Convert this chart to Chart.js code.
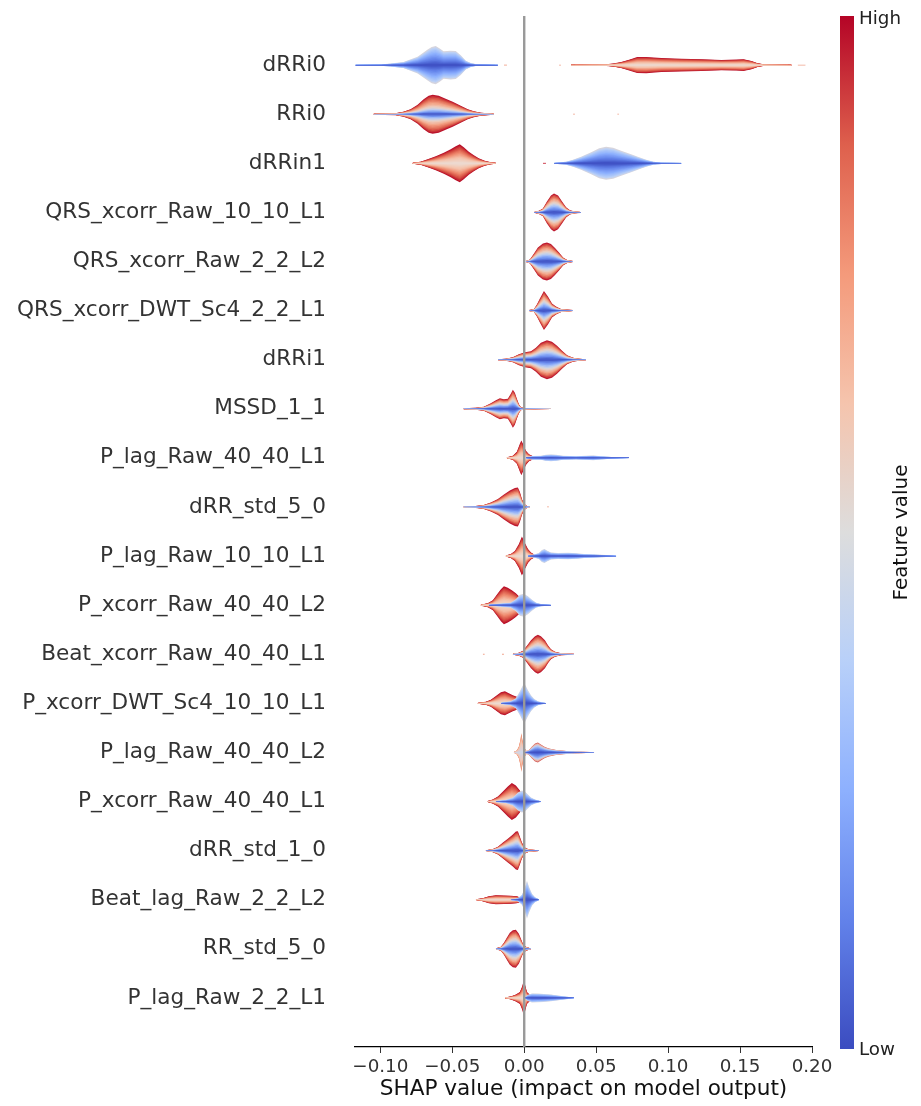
<!DOCTYPE html>
<html>
<head>
<meta charset="utf-8">
<title>SHAP layered violin summary</title>
<script src="https://cdn.jsdelivr.net/npm/chart.js@4.4.1/dist/chart.umd.min.js"></script>
<style>
  html, body { margin: 0; padding: 0; background: #ffffff; }
  #wrap { width: 921px; height: 1106px; position: relative; }
</style>
</head>
<body>
<div id="wrap"><canvas id="chart" width="921" height="1106"></canvas></div>
<script>
// Features, top to bottom
const featureNames = [
  'dRRi0', 'RRi0', 'dRRin1', 'QRS_xcorr_Raw_10_10_L1', 'QRS_xcorr_Raw_2_2_L2',
  'QRS_xcorr_DWT_Sc4_2_2_L1', 'dRRi1', 'MSSD_1_1', 'P_lag_Raw_40_40_L1', 'dRR_std_5_0',
  'P_lag_Raw_10_10_L1', 'P_xcorr_Raw_40_40_L2', 'Beat_xcorr_Raw_40_40_L1',
  'P_xcorr_DWT_Sc4_10_10_L1', 'P_lag_Raw_40_40_L2', 'P_xcorr_Raw_40_40_L1',
  'dRR_std_1_0', 'Beat_lag_Raw_2_2_L2', 'RR_std_5_0', 'P_lag_Raw_2_2_L1'
];
const xTicks = [-0.10, -0.05, 0.00, 0.05, 0.10, 0.15, 0.20];

// Violin outlines: [SHAP value, half width of the density in row units]
const dRRi0Low = [[-0.1173,0.010],[-0.0999,0.014],[-0.0929,0.031],[-0.0839,0.061],[-0.0741,0.169],[-0.0671,0.316],[-0.0643,0.370],[-0.0615,0.390],[-0.0587,0.340],[-0.0560,0.280],[-0.0511,0.292],[-0.0476,0.285],[-0.0441,0.200],[-0.0406,0.090],[-0.0371,0.041],[-0.0337,0.020],[-0.0183,0.010]];
const dRRi0DotA = [[-0.0141,0.009],[-0.0120,0.009]];
const dRRi0DotB = [[0.0242,0.008],[0.0256,0.008]];
const dRRi0High = [[0.0325,0.008],[0.0569,0.016],[0.0618,0.031],[0.0674,0.061],[0.0729,0.110],[0.0785,0.163],[0.0848,0.165],[0.0953,0.143],[0.1092,0.130],[0.1231,0.120],[0.1371,0.106],[0.1475,0.112],[0.1524,0.120],[0.1580,0.085],[0.1621,0.040],[0.1663,0.016],[0.1858,0.008]];
const dRRi0DotC = [[0.1900,0.008],[0.1956,0.008]];

const RRi0Shape = [[-0.1047,0.010],[-0.0894,0.020],[-0.0839,0.051],[-0.0790,0.102],[-0.0741,0.193],[-0.0699,0.305],[-0.0664,0.377],[-0.0636,0.397],[-0.0594,0.377],[-0.0546,0.316],[-0.0497,0.255],[-0.0441,0.173],[-0.0392,0.102],[-0.0350,0.061],[-0.0301,0.031],[-0.0211,0.010]];
const RRi0DotA = [[0.0339,0.008],[0.0353,0.008]];
const RRi0DotB = [[0.0646,0.008],[0.0660,0.008]];

const dRRin1High = [[-0.0776,0.010],[-0.0720,0.031],[-0.0671,0.081],[-0.0615,0.143],[-0.0559,0.214],[-0.0511,0.285],[-0.0476,0.346],[-0.0448,0.387],[-0.0420,0.326],[-0.0385,0.234],[-0.0350,0.163],[-0.0316,0.102],[-0.0274,0.051],[-0.0232,0.020],[-0.0197,0.010]];
const dRRin1Dot = [[0.0130,0.009],[0.0151,0.009]];
const dRRin1Low = [[0.0207,0.010],[0.0291,0.031],[0.0339,0.071],[0.0395,0.132],[0.0465,0.224],[0.0521,0.305],[0.0569,0.336],[0.0618,0.316],[0.0674,0.255],[0.0743,0.183],[0.0799,0.122],[0.0848,0.071],[0.0897,0.031],[0.0953,0.016],[0.1092,0.010]];

const qrsRaw10Shape = [[0.0068,0.010],[0.0102,0.031],[0.0130,0.081],[0.0158,0.224],[0.0186,0.346],[0.0207,0.387],[0.0235,0.346],[0.0263,0.224],[0.0291,0.102],[0.0318,0.041],[0.0353,0.020],[0.0395,0.010]];
const qrsRaw2Shape = [[0.0012,0.010],[0.0040,0.041],[0.0068,0.163],[0.0095,0.285],[0.0130,0.367],[0.0158,0.387],[0.0186,0.356],[0.0214,0.275],[0.0242,0.183],[0.0270,0.081],[0.0298,0.031],[0.0339,0.010]];
const qrsDwtShape = [[0.0033,0.010],[0.0068,0.031],[0.0088,0.122],[0.0109,0.244],[0.0137,0.397],[0.0165,0.285],[0.0193,0.143],[0.0221,0.081],[0.0256,0.031],[0.0339,0.010]];
const dRRi1Shape = [[-0.0183,0.010],[-0.0128,0.020],[-0.0079,0.051],[-0.0037,0.112],[0.0005,0.153],[0.0047,0.173],[0.0081,0.245],[0.0116,0.346],[0.0158,0.397],[0.0193,0.367],[0.0228,0.285],[0.0263,0.183],[0.0298,0.092],[0.0339,0.041],[0.0381,0.020],[0.0430,0.010]];
const mssdShape = [[-0.0422,0.010],[-0.0337,0.020],[-0.0281,0.041],[-0.0232,0.112],[-0.0197,0.173],[-0.0169,0.214],[-0.0141,0.193],[-0.0114,0.204],[-0.0093,0.305],[-0.0079,0.387],[-0.0065,0.326],[-0.0051,0.204],[-0.0037,0.092],[-0.0023,0.031],[-0.0002,0.016],[0.0082,0.010],[0.0186,0.006]];

const pLag40L1High = [[-0.0121,0.010],[-0.0079,0.041],[-0.0051,0.122],[-0.0030,0.285],[-0.0020,0.356],[-0.0009,0.285],[0.0012,0.143],[0.0033,0.071],[0.0061,0.031],[0.0095,0.010]];
const pLag40L1Low = [[0.0012,0.010],[0.0061,0.037],[0.0116,0.041],[0.0151,0.061],[0.0186,0.069],[0.0221,0.061],[0.0270,0.041],[0.0360,0.033],[0.0430,0.041],[0.0479,0.047],[0.0535,0.033],[0.0604,0.020],[0.0674,0.012],[0.0729,0.006]];

const dRRstd5Shape = [[-0.0422,0.010],[-0.0337,0.020],[-0.0281,0.041],[-0.0232,0.092],[-0.0183,0.163],[-0.0141,0.255],[-0.0100,0.336],[-0.0065,0.387],[-0.0044,0.397],[-0.0030,0.305],[-0.0016,0.163],[-0.0002,0.071],[0.0019,0.020],[0.0040,0.008]];
const dRRstd5Dot = [[0.0158,0.008],[0.0172,0.008]];

const pLag10High = [[-0.0128,0.010],[-0.0093,0.041],[-0.0065,0.102],[-0.0037,0.244],[-0.0016,0.397],[0.0005,0.265],[0.0026,0.143],[0.0047,0.071],[0.0075,0.020],[0.0116,0.008]];
const pLag10Low = [[0.0026,0.010],[0.0068,0.031],[0.0102,0.061],[0.0123,0.122],[0.0141,0.143],[0.0158,0.112],[0.0186,0.071],[0.0235,0.061],[0.0305,0.067],[0.0360,0.057],[0.0416,0.041],[0.0500,0.031],[0.0569,0.020],[0.0639,0.008]];

const pXcorr40L2High = [[-0.0302,0.010],[-0.0253,0.041],[-0.0218,0.102],[-0.0183,0.244],[-0.0162,0.326],[-0.0141,0.387],[-0.0114,0.356],[-0.0086,0.305],[-0.0058,0.244],[-0.0030,0.163],[-0.0002,0.061],[0.0019,0.010]];
const pXcorr40L2Low = [[-0.0246,0.010],[-0.0162,0.031],[-0.0093,0.051],[-0.0058,0.122],[-0.0030,0.214],[-0.0002,0.234],[0.0026,0.183],[0.0054,0.112],[0.0082,0.051],[0.0116,0.024],[0.0186,0.008]];

const beatXcorrShape = [[-0.0079,0.010],[-0.0037,0.031],[-0.0009,0.071],[0.0019,0.173],[0.0047,0.285],[0.0075,0.367],[0.0095,0.397],[0.0116,0.367],[0.0144,0.285],[0.0165,0.183],[0.0186,0.102],[0.0214,0.051],[0.0256,0.020],[0.0346,0.008]];
const beatXcorrDotA = [[-0.0288,0.008],[-0.0274,0.008]];
const beatXcorrDotB = [[-0.0155,0.008],[-0.0141,0.008]];

const pXcorrDwtHigh = [[-0.0323,0.010],[-0.0267,0.031],[-0.0232,0.071],[-0.0190,0.163],[-0.0162,0.224],[-0.0134,0.244],[-0.0107,0.204],[-0.0079,0.163],[-0.0051,0.132],[-0.0023,0.081],[0.0005,0.020],[0.0026,0.008]];
const pXcorrDwtLow = [[-0.0162,0.010],[-0.0093,0.041],[-0.0058,0.102],[-0.0030,0.244],[-0.0009,0.367],[0.0005,0.387],[0.0026,0.265],[0.0047,0.163],[0.0068,0.092],[0.0095,0.041],[0.0123,0.020],[0.0151,0.008]];

const pLag40L2Spike = [[-0.0072,0.008],[-0.0051,0.041],[-0.0037,0.122],[-0.0026,0.265],[-0.0020,0.397],[-0.0013,0.265],[-0.0002,0.122],[0.0012,0.041],[0.0033,0.010]];
const pLag40L2Low = [[0.0005,0.010],[0.0033,0.051],[0.0054,0.122],[0.0075,0.183],[0.0095,0.204],[0.0116,0.163],[0.0144,0.112],[0.0172,0.081],[0.0221,0.051],[0.0291,0.031],[0.0360,0.020],[0.0430,0.012],[0.0486,0.006]];

const pXcorr40L1High = [[-0.0254,0.010],[-0.0219,0.041],[-0.0183,0.102],[-0.0148,0.204],[-0.0114,0.305],[-0.0086,0.377],[-0.0058,0.326],[-0.0030,0.224],[-0.0009,0.102],[0.0012,0.020],[0.0033,0.006]];
const pXcorr40L1Low = [[-0.0197,0.010],[-0.0128,0.031],[-0.0079,0.081],[-0.0044,0.183],[-0.0016,0.224],[0.0005,0.204],[0.0026,0.143],[0.0047,0.081],[0.0075,0.041],[0.0116,0.008]];

const dRRstd1Shape = [[-0.0267,0.010],[-0.0218,0.031],[-0.0183,0.081],[-0.0148,0.163],[-0.0114,0.244],[-0.0079,0.326],[-0.0058,0.387],[-0.0044,0.397],[-0.0030,0.285],[-0.0016,0.163],[0.0005,0.061],[0.0033,0.024],[0.0102,0.008]];

const beatLagHigh = [[-0.0336,0.008],[-0.0288,0.031],[-0.0246,0.071],[-0.0197,0.092],[-0.0141,0.088],[-0.0093,0.081],[-0.0051,0.071],[-0.0023,0.041],[0.0005,0.010]];
const beatLagLow = [[-0.0093,0.006],[-0.0044,0.031],[-0.0016,0.102],[0.0005,0.244],[0.0019,0.387],[0.0033,0.265],[0.0054,0.122],[0.0075,0.051],[0.0102,0.010]];

const rrStd5Shape = [[-0.0197,0.010],[-0.0162,0.041],[-0.0141,0.122],[-0.0121,0.224],[-0.0100,0.326],[-0.0079,0.377],[-0.0058,0.387],[-0.0037,0.305],[-0.0023,0.204],[-0.0009,0.102],[0.0012,0.041],[0.0047,0.008]];

const pLag2High = [[-0.0134,0.008],[-0.0093,0.031],[-0.0058,0.071],[-0.0030,0.122],[-0.0013,0.244],[-0.0002,0.377],[0.0008,0.244],[0.0019,0.122],[0.0040,0.061],[0.0068,0.020],[0.0095,0.008]];
const pLag2Low = [[0.0005,0.010],[0.0026,0.061],[0.0054,0.092],[0.0095,0.088],[0.0137,0.081],[0.0186,0.067],[0.0228,0.051],[0.0270,0.035],[0.0311,0.020],[0.0346,0.008]];

// Which row each outline belongs to, and its colour ramp (drawn in this order)
const violinLobes = [
  [0, dRRi0Low, 'low'], [0, dRRi0DotA, 'dot'], [0, dRRi0DotB, 'dot'], [0, dRRi0High, 'high'], [0, dRRi0DotC, 'dot'],
  [1, RRi0Shape, 'mostlyHigh'], [1, RRi0DotA, 'dot'], [1, RRi0DotB, 'dot'],
  [2, dRRin1High, 'high'], [2, dRRin1Dot, 'dotRed'], [2, dRRin1Low, 'low'],
  [3, qrsRaw10Shape, 'mixed'],
  [4, qrsRaw2Shape, 'mixed'],
  [5, qrsDwtShape, 'mixed'],
  [6, dRRi1Shape, 'mixed'],
  [7, mssdShape, 'mixed'],
  [8, pLag40L1High, 'high'], [8, pLag40L1Low, 'low'],
  [9, dRRstd5Shape, 'mixed'], [9, dRRstd5Dot, 'dot'],
  [10, pLag10High, 'high'], [10, pLag10Low, 'low'],
  [11, pXcorr40L2High, 'high'], [11, pXcorr40L2Low, 'low'],
  [12, beatXcorrShape, 'mixed'], [12, beatXcorrDotA, 'dot'], [12, beatXcorrDotB, 'dot'],
  [13, pXcorrDwtHigh, 'high'], [13, pXcorrDwtLow, 'low'],
  [14, pLag40L2Spike, 'pale'], [14, pLag40L2Low, 'lowRim'],
  [15, pXcorr40L1High, 'high'], [15, pXcorr40L1Low, 'low'],
  [16, dRRstd1Shape, 'mixed'],
  [17, beatLagHigh, 'high'], [17, beatLagLow, 'low'],
  [18, rrStd5Shape, 'mixed'],
  [19, pLag2High, 'high'], [19, pLag2Low, 'low']
];

// Colour ramps from the violin rim (1) to its centre line (0)
const palettes = {
  high:       [[1,'#b40426'],[0.8,'#d4493f'],[0.55,'#ef8a6e'],[0.3,'#f5c2aa'],[0,'#ecdcd4']],
  mostlyHigh: [[1,'#b40426'],[0.8,'#dc5d4a'],[0.55,'#f4a688'],[0.35,'#ecd3c6'],[0.22,'#b3cbf7'],[0.1,'#6d8ff0'],[0,'#3b4cc0']],
  mixed:      [[1,'#b40426'],[0.85,'#dc5d4a'],[0.68,'#f4a688'],[0.5,'#e6d6cd'],[0.36,'#b3cbf7'],[0.2,'#7396f5'],[0,'#3b4cc0']],
  low:        [[1,'#e2d6d2'],[0.88,'#bcd2f7'],[0.6,'#8db0fe'],[0.3,'#6282ea'],[0,'#3b4cc0']],
  pale:       [[1,'#ea8468'],[0.6,'#f5c4ad'],[0,'#cdd7ec']],
  lowRim:     [[1,'#c9474a'],[0.85,'#f2b9a3'],[0.65,'#b8d0f9'],[0.3,'#6282ea'],[0,'#3b4cc0']],
  dot:        [[1,'#f0a28a'],[0,'#f0a28a']],
  dotRed:     [[1,'#c8283a'],[0,'#c8283a']]
};
// coolwarm colour map for the feature-value bar, low to high
const coolwarm = ['#3b4cc0','#6282ea','#8db0fe','#b8d0f9','#dddddd','#f5c4ad','#f49a7b','#de604d','#b40426'];

const LAYERS = 14;

function hexRgb(h) {
  const n = parseInt(h.slice(1), 16);
  return [(n >> 16) & 255, (n >> 8) & 255, n & 255];
}
function rampColor(stops, k) {
  for (let s = 0; s < stops.length - 1; s++) {
    const [p0, c0] = stops[s], [p1, c1] = stops[s + 1];
    if (k <= p0 + 1e-9 && k >= p1 - 1e-9) {
      const t = p0 === p1 ? 0 : (p0 - k) / (p0 - p1);
      const a = hexRgb(c0), b = hexRgb(c1);
      return 'rgb(' + a.map((v, i) => Math.round(v + (b[i] - v) * t)).join(',') + ')';
    }
  }
  return stops[stops.length - 1][1];
}

// Each violin is a stack of nested bands; every band is the area between
// a lower and an upper outline dataset (fill: '-1').
const datasets = [];
function pushLine(extra) {
  datasets.push(Object.assign({
    showLine: true, pointRadius: 0, pointHoverRadius: 0,
    borderWidth: 0, borderColor: 'rgba(0,0,0,0)', tension: 0,
    order: -datasets.length
  }, extra));
}
violinLobes.forEach(([row, shape, pal]) => {
  const stops = palettes[pal];
  const n = pal.startsWith('dot') ? 1 : LAYERS;
  for (let j = 0; j < n; j++) {
    const k = 1 - j / n;
    const color = rampColor(stops, Math.max(0, k - 0.5 / n));
    pushLine({ data: shape.map(([x, w]) => ({ x, y: row + w * k })), fill: false });
    pushLine({ data: shape.map(([x, w]) => ({ x, y: row - w * k })), fill: '-1', backgroundColor: color });
  }
});
// zero reference line
pushLine({
  data: [{ x: 0, y: -1 }, { x: 0, y: featureNames.length }],
  borderColor: '#999999', borderWidth: 2.4, fill: false
});

const colorbarPlugin = {
  id: 'featureValueBar',
  afterDraw(chart) {
    const ctx = chart.ctx;
    const area = chart.chartArea;
    const x0 = area.right + 28, w = 14;
    const top = area.top, bottom = area.bottom + 2;
    ctx.save();
    const g = ctx.createLinearGradient(0, bottom, 0, top);
    coolwarm.forEach((c, i) => g.addColorStop(i / (coolwarm.length - 1), c));
    ctx.fillStyle = g;
    ctx.fillRect(x0, top, w, bottom - top);
    ctx.fillStyle = '#222222';
    ctx.font = '18.3px "DejaVu Sans"';
    ctx.textAlign = 'left';
    ctx.textBaseline = 'alphabetic';
    ctx.fillText('High', x0 + 19, top + 7.5);
    ctx.fillText('Low', x0 + 19, bottom + 5.5);
    ctx.font = '19.9px "DejaVu Sans"';
    ctx.translate(x0 + 67, (top + bottom) / 2);
    ctx.rotate(-Math.PI / 2);
    ctx.textAlign = 'center';
    ctx.fillStyle = '#111111';
    ctx.fillText('Feature value', 0, 0);
    ctx.restore();
  }
};

new Chart(document.getElementById('chart'), {
  type: 'scatter',
  data: { datasets },
  plugins: [colorbarPlugin],
  options: {
    responsive: false,
    animation: false,
    devicePixelRatio: 1,
    events: [],
    layout: { padding: { left: 0, right: 109, top: 16, bottom: 0 } },
    plugins: {
      legend: { display: false },
      tooltip: { enabled: false },
      filler: { propagate: false }
    },
    scales: {
      x: {
        type: 'linear',
        min: -0.1176,
        max: 0.20,
        afterBuildTicks: (s) => { s.ticks = xTicks.map(v => ({ value: v })); },
        afterFit: (s) => { s.height = 59; },
        ticks: {
          autoSkip: false, maxRotation: 0, padding: 3,
          color: '#333333',
          font: { family: 'DejaVu Sans', size: 18.3 },
          callback: (v) => (v < -1e-9 ? '\u2212' : '') + Math.abs(v).toFixed(2)
        },
        grid: { display: true, drawOnChartArea: false, drawTicks: true, tickLength: 6, color: '#333333', lineWidth: 1 },
        border: { display: true, color: '#000000', width: 1.2 },
        title: {
          display: true,
          text: 'SHAP value (impact on model output)',
          color: '#111111',
          font: { family: 'DejaVu Sans', size: 21.6 },
          padding: { top: 0, bottom: 4 }
        }
      },
      y: {
        type: 'linear',
        min: -1,
        max: featureNames.length,
        reverse: true,
        afterBuildTicks: (s) => { s.ticks = featureNames.map((_, i) => ({ value: i })); },
        afterFit: (s) => { s.width = 355; s.paddingTop = 0; s.paddingBottom = 0; },
        ticks: {
          autoSkip: false, padding: 29,
          color: '#333333',
          font: { family: 'DejaVu Sans', size: 21.6 },
          callback: (v) => featureNames[v]
        },
        grid: { display: false, drawTicks: false },
        border: { display: false }
      }
    }
  }
});
</script>
</body>
</html>
